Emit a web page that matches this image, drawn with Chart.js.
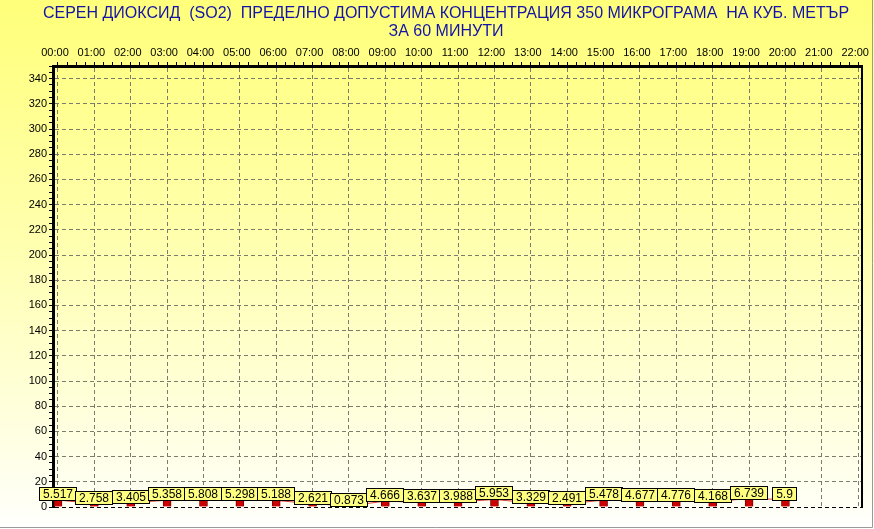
<!DOCTYPE html>
<html>
<head>
<meta charset="utf-8">
<script src="https://cdn.jsdelivr.net/npm/chart.js@4.4.1/dist/chart.umd.min.js"></script>
<style>
html,body{margin:0;padding:0;background:#ffffff;overflow:hidden}
#wrap{width:874px;height:529px;position:relative}
</style>
</head>
<body>
<div id="wrap"><canvas id="c" width="874" height="529"></canvas></div>
<script>
// ---- data ----
const titleLines = [
  'СЕРЕН ДИОКСИД  (SO2)  ПРЕДЕЛНО ДОПУСТИМА КОНЦЕНТРАЦИЯ 350 МИКРОГРАМА  НА КУБ. МЕТЪР',
  'ЗА 60 МИНУТИ'
];
const hourLabels = ['00:00','01:00','02:00','03:00','04:00','05:00','06:00','07:00','08:00','09:00','10:00',
  '11:00','12:00','13:00','14:00','15:00','16:00','17:00','18:00','19:00','20:00','21:00','22:00'];
const so2Values = [5.517, 2.758, 3.405, 5.358, 5.808, 5.298, 5.188, 2.621, 0.873, 4.666, 3.637,
  3.988, 5.953, 3.329, 2.491, 5.478, 4.677, 4.776, 4.168, 6.739, 5.9];
const so2Labels = ['5.517','2.758','3.405','5.358','5.808','5.298','5.188','2.621','0.873','4.666','3.637',
  '3.988','5.953','3.329','2.491','5.478','4.677','4.776','4.168','6.739','5.9'];
const yMin = 0, yMax = 350, yLabelStep = 20, yMinorStep = 5;
const xMin = -0.137, xMax = 22.11, xMinorStep = 0.25;

const FONT = '"Liberation Sans", Arial, sans-serif';
const GRID = '#7c7c6c';

const points = so2Values.map((v, i) => ({x: i, y: v}));

const bgPlugin = {
  id: 'bg',
  beforeDraw(chart) {
    const {ctx, width, height} = chart;
    ctx.save();
    const g = ctx.createLinearGradient(0, 0, 0, height);
    g.addColorStop(0, '#ffff7a');
    g.addColorStop(0.45, '#ffffae');
    g.addColorStop(0.95, '#fffff4');
    g.addColorStop(1, '#ffffff');
    ctx.fillStyle = g;
    ctx.fillRect(0, 0, width, height);
    ctx.strokeStyle = '#9a9a9a';
    ctx.lineWidth = 1;
    ctx.beginPath();
    ctx.moveTo(width - 1.5, 0); ctx.lineTo(width - 1.5, height - 1.5);
    ctx.moveTo(0, height - 1.5); ctx.lineTo(width - 1.5, height - 1.5);
    ctx.stroke();
    ctx.restore();
  }
};

const labelPlugin = {
  id: 'valueBoxes',
  afterDatasetsDraw(chart) {
    const ctx = chart.ctx;
    const meta = chart.getDatasetMeta(1);
    const ys = chart.scales.y;
    ctx.save();
    ctx.font = '12px ' + FONT;
    ctx.textAlign = 'center';
    ctx.textBaseline = 'middle';
    meta.data.forEach((el, i) => {
      const txt = so2Labels[i];
      const w = Math.round(ctx.measureText(txt).width) + 8;
      const h = 14;
      const cx = Math.round(el.x);
      const bottom = Math.round(ys.getPixelForValue(so2Values[i])) + 1;
      const left = cx - Math.round(w / 2);
      const top = bottom - h;
      ctx.fillStyle = '#ffff80';
      ctx.fillRect(left, top, w, h);
      ctx.strokeStyle = '#000000';
      ctx.lineWidth = 1;
      ctx.strokeRect(left + 0.5, top + 0.5, w - 1, h - 1);
      ctx.fillStyle = '#000000';
      ctx.fillText(txt, left + w / 2, top + h / 2 + 0.5);
    });
    ctx.restore();
  }
};

new Chart(document.getElementById('c'), {
  data: {
    datasets: [
      {
        type: 'line',
        data: points,
        borderColor: '#e04040',
        borderWidth: 1,
        pointRadius: 0,
        order: 2
      },
      {
        type: 'bar',
        data: points,
        backgroundColor: '#cc0000',
        borderColor: '#7a0000',
        borderWidth: 1,
        barThickness: 8,
        order: 1
      }
    ]
  },
  options: {
    responsive: false,
    animation: false,
    devicePixelRatio: 1,
    layout: {autoPadding: false, padding: {left: 18, right: 0, top: 0, bottom: 22}},
    plugins: {
      legend: {display: false},
      tooltip: {enabled: false},
      title: {
        display: true,
        text: titleLines,
        color: '#1414a8',
        font: {family: FONT, size: 16, weight: 'normal', lineHeight: 1.1},
        padding: {top: 5, bottom: 0}
      }
    },
    scales: {
      x: {
        type: 'linear',
        position: 'top',
        min: xMin,
        max: xMax,
        offset: false,
        afterFit(s) { s.height = 25.8; },
        ticks: {
          stepSize: xMinorStep,
          includeBounds: false,
          autoSkip: false,
          maxRotation: 0,
          minRotation: 0,
          padding: 2,
          labelOffset: -3,
          color: '#000000',
          font: {family: FONT, size: 11},
          callback: (v) => Number.isInteger(v) ? hourLabels[v] : ''
        },
        grid: {
          offset: false,
          color: (c) => (c.tick && Number.isInteger(c.tick.value)) ? GRID : 'rgba(0,0,0,0)',
          tickColor: '#000000',
          tickLength: 4,
          lineWidth: 1
        },
        border: {display: true, color: '#000000', width: 3, dash: [4, 3]}
      },
      y: {
        type: 'linear',
        position: 'left',
        min: yMin,
        max: yMax,
        afterFit(s) { s.width = 35; },
        ticks: {
          stepSize: yMinorStep,
          autoSkip: false,
          padding: 2,
          color: '#000000',
          font: {family: FONT, size: 11},
          callback: (v) => (v % yLabelStep === 0) ? String(v) : ''
        },
        grid: {
          color: (c) => {
            if (!c.tick) return 'rgba(0,0,0,0)';
            if (c.tick.value === 0) return '#000000';
            return (c.tick.value % yLabelStep === 0) ? GRID : 'rgba(0,0,0,0)';
          },
          tickColor: '#000000',
          tickLength: 4,
          lineWidth: 1
        },
        border: {display: true, color: '#000000', width: 3, dash: [4, 3]}
      },
      yr: {
        type: 'linear',
        position: 'right',
        min: yMin,
        max: yMax,
        afterFit(s) { s.width = 9; },
        ticks: {display: false},
        grid: {drawOnChartArea: false, drawTicks: false},
        border: {display: true, color: '#000000', width: 2}
      }
    }
  },
  plugins: [bgPlugin, labelPlugin]
});
</script>
</body>
</html>
